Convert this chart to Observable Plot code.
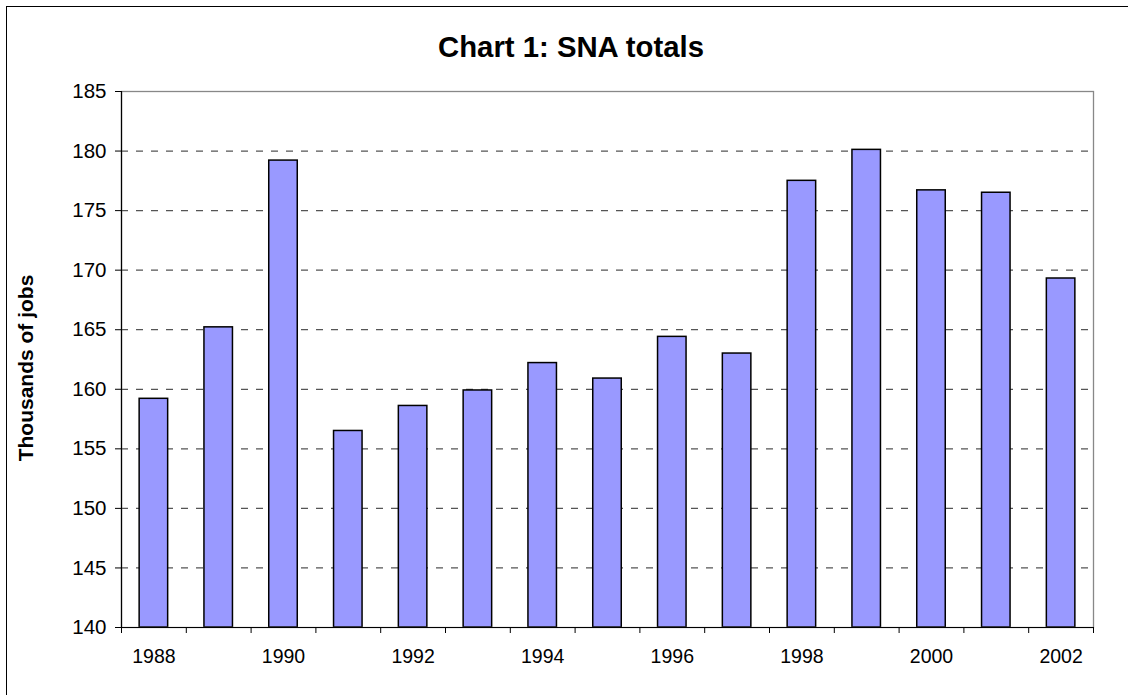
<!DOCTYPE html>
<html>
<head>
<meta charset="utf-8">
<script src="https://cdn.jsdelivr.net/npm/d3@7"></script>
<script src="https://cdn.jsdelivr.net/npm/@observablehq/plot@0.6"></script>
<style>
  html, body { margin: 0; padding: 0; background: #fff; }
  #wrap { position: relative; width: 1128px; height: 695px; overflow: hidden; font-family: Arial, "Liberation Sans", sans-serif; }
  #border { position: absolute; left: 6px; top: 6px; width: 1140px; height: 700px; border: 1px solid #000; box-sizing: border-box; }
  #title { position: absolute; left: 0; width: 1142px; top: 31.5px; line-height: 1; text-align: center; font-weight: bold; font-size: 29.3px; color: #000; }
  #ylabel { position: absolute; left: 25px; top: 368px; line-height: 1; transform: translate(-50%, -50%) rotate(-90deg); font-weight: bold; font-size: 21px; white-space: nowrap; color: #000; }
  #chart { position: absolute; left: 0; top: 0; }
</style>
</head>
<body>
<div id="wrap">
  <div id="border"></div>
  <div id="chart"></div>
  <div id="title">Chart 1: SNA totals</div>
  <div id="ylabel">Thousands of jobs</div>
</div>
<script>
const years = [1988, 1989, 1990, 1991, 1992, 1993, 1994, 1995, 1996, 1997, 1998, 1999, 2000, 2001, 2002];
const values = [159.2, 165.2, 179.2, 156.5, 158.6, 159.9, 162.2, 160.9, 164.4, 163.0, 177.5, 180.1, 176.7, 176.5, 169.3];
const yTicks = [140, 145, 150, 155, 160, 165, 170, 175, 180, 185];
const gridTicks = [145, 150, 155, 160, 165, 170, 175, 180];
const xLabelYears = [1988, 1990, 1992, 1994, 1996, 1998, 2000, 2002];
const halfBar = 0.22;

const data = years.map((y, i) => ({year: y, value: values[i]}));
const boundaries = [years[0] - 0.5, ...years.map(y => y + 0.5)];

const chart = Plot.plot({
  width: 1128,
  height: 695,
  marginLeft: 121,
  marginRight: 35,
  marginTop: 91,
  marginBottom: 68,
  style: {fontFamily: "Arial, 'Liberation Sans', sans-serif", fontSize: "19.5px", color: "#000", background: "transparent"},
  x: {type: "linear", domain: [years[0] - 0.5, years[years.length - 1] + 0.5]},
  y: {domain: [140, 185]},
  marks: [
    Plot.ruleY(gridTicks, {stroke: "#555", strokeWidth: 1.3, strokeDasharray: "7,8"}),
    Plot.rectY(data, {x1: d => d.year - halfBar, x2: d => d.year + halfBar, y1: 140, y2: "value", fill: "#9999FF", stroke: "#000", strokeWidth: 1.5}),
    Plot.frame({stroke: "#888", strokeWidth: 1.3}),
    Plot.ruleX([years[0] - 0.5], {stroke: "#000", strokeWidth: 1.2}),
    Plot.ruleY([140], {stroke: "#000", strokeWidth: 1.2}),
    Plot.axisY({ticks: yTicks, tickSize: 6, tickPadding: 9, label: null, fontSize: 20.5, fill: "#000"}),
    Plot.axisX({ticks: boundaries, tickSize: 6, tickFormat: () => "", label: null}),
    Plot.axisX({ticks: xLabelYears, tickSize: 0, tickPadding: 22, tickFormat: d => String(d), label: null, fontSize: 19.5, fill: "#000"})
  ]
});
document.getElementById("chart").appendChild(chart);
</script>
</body>
</html>
